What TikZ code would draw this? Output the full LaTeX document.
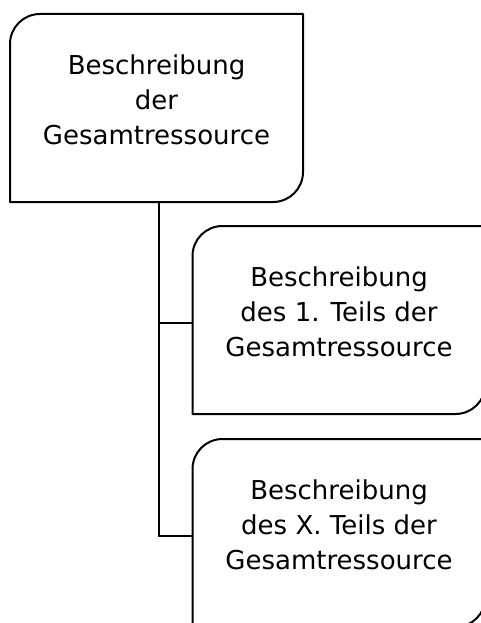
\documentclass[tikz,border=0pt]{standalone}
\usepackage{fontspec}
\setmainfont{DejaVu Sans}

\begin{document}
\begin{tikzpicture}[x=1pt, y=1pt]
  \tikzstyle{box}=[draw=none, minimum width=293pt, minimum height=188pt, inner sep=0pt, outer sep=0pt]
  \tikzstyle{txt}=[align=center, font=\fontsize{26}{35}\selectfont, inner sep=0pt]
  \tikzstyle{frame}=[line width=2pt, line join=round]
  \tikzstyle{link}=[line width=1.6pt]

  \useasboundingbox (0,0) rectangle (481,-623); % Page size

  \node[box] (gesamt) at (156.5, -108) {}; % Top box
  \node[box] (teila) at (339, -320) {}; % Middle box
  \node[box] (teilx) at (339, -533) {}; % Bottom box

  \node[txt] (gesamttext) at ([yshift=8pt]gesamt.center) {Beschreibung\\der\\Gesamtressource};
  \node[txt] (teilatext) at ([yshift=8pt]teila.center) {Beschreibung\\des 1. Teils der\\Gesamtressource};
  \node[txt] (teilxtext) at ([yshift=8pt]teilx.center) {Beschreibung\\des X. Teils der\\Gesamtressource};

  \foreach \n in {gesamt, teila, teilx}
    \draw[frame] (\n.south west) -- ([yshift=-30pt]\n.north west)
      arc[start angle=180, end angle=90, radius=30pt] -- (\n.north east)
      -- ([yshift=30pt]\n.south east)
      arc[start angle=0, end angle=-90, radius=30pt] -- cycle; % Box outline

  \coordinate (stem) at ([xshift=2.5pt]gesamt.south);
  \draw[link] (stem) |- ([yshift=-3pt]teila.west); % Branch to 1st part
  \draw[link] (stem) |- ([yshift=-3pt]teilx.west); % Branch to X-th part
\end{tikzpicture}
\end{document}
